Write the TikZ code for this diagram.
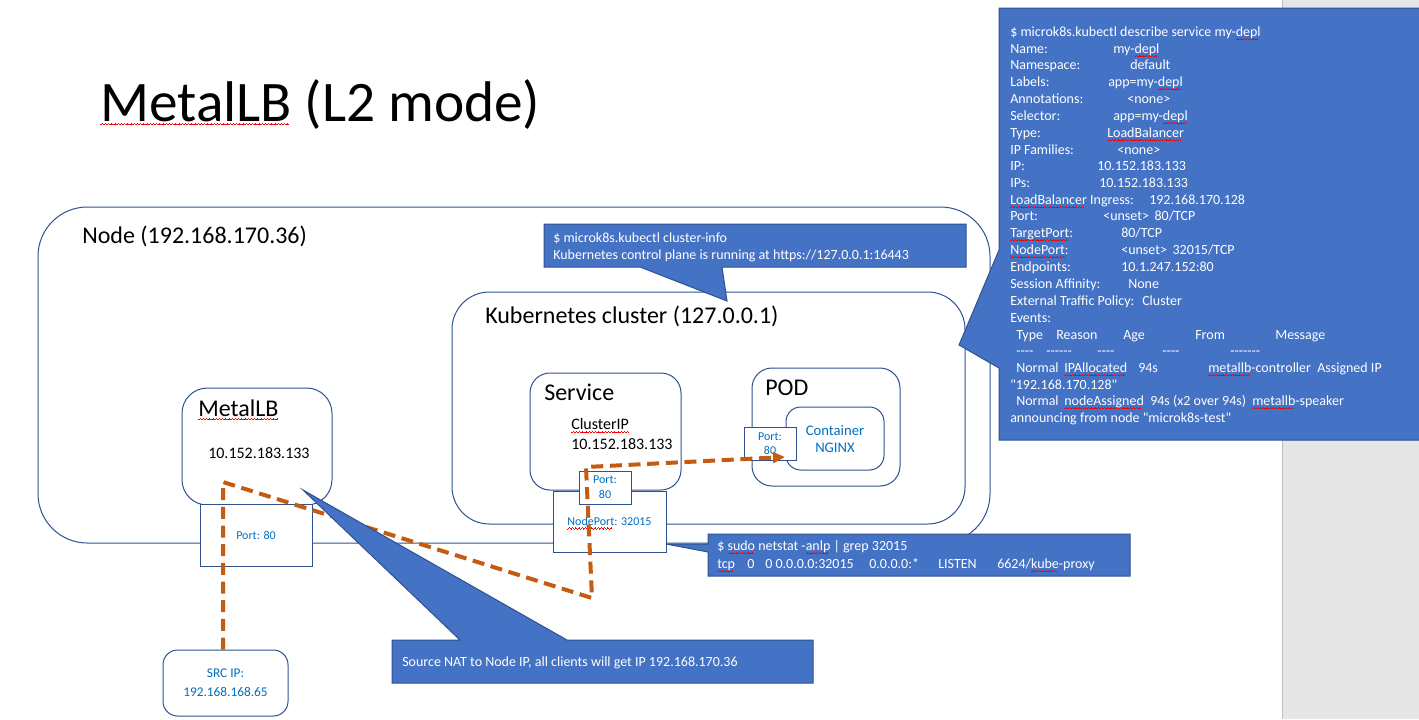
\documentclass[tikz,border=0pt]{standalone}
\usepackage{fontspec}
\setmainfont{Carlito}
\usepackage{xcolor}
\usetikzlibrary{arrows.meta, fit}
\definecolor{lineblue}{HTML}{2F528F}
\definecolor{callblue}{HTML}{4472C4}
\definecolor{txtblue}{HTML}{0070C0}
\definecolor{flowor}{HTML}{C55A11}
\definecolor{margin}{HTML}{E6E6E6}
\newcommand{\fs}[2]{\fontsize{#1}{#2}\selectfont}
\newsavebox{\wavebox}
\AtBeginDocument{\sbox{\wavebox}{\color{red}\rule[0pt]{0.6pt}{0.45pt}\rule[0.45pt]{0.6pt}{0.45pt}\rule[0.9pt]{0.6pt}{0.45pt}\rule[0.45pt]{0.6pt}{0.45pt}}}
\newcommand{\spl}[1]{\setbox0\hbox{#1}\leavevmode\rlap{\raisebox{-2.6pt}[0pt][0pt]{\hbox to \wd0{\leaders\copy\wavebox\hfill}}}\box0\relax}

\begin{document}
\begin{tikzpicture}[x=0.75pt, y=-0.75pt,
  box/.style={draw=lineblue, line width=0.75pt, inner sep=0pt},
  port/.style={box, fill=white},
  lbl/.style={anchor=west, inner sep=0pt, text height=6.6pt, text depth=0pt},
  big/.style={lbl, font=\fs{18}{22}},
  bt/.style={text=txtblue, align=center, inner sep=0pt, font=\fs{9}{11}},
  bubble/.style={fill=callblue, draw=lineblue, line width=0.75pt},
  ctxt/.style={lbl, text=white, font=\fs{10.5}{12.5}},
  flow/.style={draw=flowor, line width=3pt, dash pattern=on 9pt off 5pt},
  >=Triangle]
\useasboundingbox (0,0) rectangle (1419,719);
\fill[white] (0,0) rectangle (1282,719);
\fill[margin] (1282,0) rectangle (1419,719);
\draw[black!25] (1282,0) -- (1282,719);

\node[lbl, font=\fs{43}{52}] (title) at (100,117) {\spl{MetalLB} (L2 mode)};

% node and cluster
\node[box, rounded corners=37pt, fit={(38,207) (990,543)}] (nd) {};
\node[big] (ndlbl) at (82,239) {Node (192.168.170.36)};
\node[box, rounded corners=28pt, fit={(452,292) (965,524)}] (kc) {};
\node[big] (kclbl) at (485,319) {Kubernetes cluster (127.0.0.1)};

% service
\node[box, rounded corners=15pt, fit={(530,373) (681,490)}] (svc) {};
\node[big] (svclbl) at (544,396) {Service};
\node[lbl, font=\fs{12}{14}] (cip) at (571,425) {\spl{ClusterIP}};
\node[lbl, font=\fs{12}{14}] (cipv) at (571,445) {10.152.183.133};

% pod
\node[box, rounded corners=15pt, fit={(752,368) (900,486)}] (pod) {};
\node[big] (podlbl) at (765,391) {POD};
\node[box, rounded corners=11pt, fit={(786,407) (884,470)}] (ctr) {};
\node[bt, font=\fs{11}{12.75}] (ctrtxt) at (835,439) {Container\\NGINX};
\node[port, fit={(744,427) (796,460)}] (podport) {};
\node[bt, font=\fs{9}{10.5}] at (podport) {Port:\\80};

% metallb
\node[box, rounded corners=19pt, fit={(182,388) (332,505)}] (mlb) {};
\node[big] (mlblbl) at (198,412) {\spl{MetalLB}};
\node[lbl, font=\fs{12}{14}] (mlbip) at (208,454) {10.152.183.133};
\node[port, fit={(200,504) (312,566)}] (lbport) {};
\node[bt] at (lbport) {Port: 80};

% node port
\node[port, fit={(553,491) (666,552)}] (np) {};
\node[bt] at (np) {\spl{NodePort}: 32015};
\node[port, fit={(579,471) (631,504)}] (svcport) {};
\node[bt, font=\fs{9}{11}] at (svcport) {Port:\\80};

% client
\node[box, rounded corners=11pt, fit={(163,650) (288,716)}] (src) {};
\node[bt, font=\fs{10}{14}] at (src) {SRC IP:\\192.168.168.65};

% traffic
\coordinate (lbtap) at (223,482);
\coordinate (npdrop) at (592,598);
\coordinate (svctap) at (586,467);
\coordinate (arrtip) at (785,457);
\draw[flow, -{Triangle[length=9pt, width=8pt]}] (src.north -| lbtap) -- (lbtap) -- (npdrop) -- (svctap) -- (arrtip);

% callouts
\draw[bubble] (544,224) -- (966,224) -- (966,267) -- (722,267) -- (727,301) -- (640,267) -- (544,267) -- cycle;
\node[ctxt] (ci1) at (553,238) {\$ microk8s.kubectl cluster-info};
\node[ctxt] (ci2) at (553,255) {Kubernetes control plane is running at https://127.0.0.1:16443};

\draw[bubble] (708,534) -- (1130,534) -- (1130,576) -- (708,576) -- (708,552) -- (666,544) -- (708,544) -- cycle;
\node[ctxt] (ns1) at (717,546) {\$ \spl{sudo} netstat -\spl{anlp} | grep 32015};
\node[ctxt] (ns2) at (717,564) {\spl{tcp}};
\node[ctxt] (ns3) at (747,564) {0};
\node[ctxt] (ns4) at (765,564) {0 0.0.0.0:32015};
\node[ctxt] (ns5) at (869,564) {0.0.0.0:*};
\node[ctxt] (ns6) at (938,564) {LISTEN};
\node[ctxt] (ns7) at (997,564) {6624/\spl{kube}-proxy};

\draw[bubble] (392,640) -- (460,640) -- (303,490) -- (567,640) -- (813,640) -- (813,683) -- (392,683) -- cycle;
\node[ctxt] (nat) at (402,662) {Source NAT to Node IP, all clients will get IP 192.168.170.36};

\draw[bubble] (999,8) -- (1422,8) -- (1422,440) -- (999,440) -- (999,368) -- (959,345) -- (999,250) -- cycle;
\node[ctxt] (ds) at (1010,32) {\$ microk8s.kubectl describe service my-\spl{depl}};
\foreach \yy/\kk/\xx/\vv in {49/Name:/1113/{my-\spl{depl}}, 65/Namespace:/1130/default,
  82/Labels:/1108/{app=my-\spl{depl}}, 99/Annotations:/1127/{<none>},
  116/Selector:/1113/{app=my-\spl{depl}}, 133/Type:/1107/{\spl{LoadBalancer}},
  150/IP Families:/1117/{<none>}, 166/IP:/1097/10.152.183.133, 183/IPs:/1099/10.152.183.133,
  200/{\spl{LoadBalancer} Ingress:}/1149/192.168.170.128, 216/Port:/1103/{<unset>\hspace{0.4em}80/TCP},
  233/{\spl{TargetPort}:}/1121/{80/TCP}, 250/{\spl{NodePort}:}/1121/{<unset>\hspace{0.4em}32015/TCP},
  267/Endpoints:/1121/10.1.247.152:80, 284/Session Affinity:/1128/None,
  301/External Traffic Policy:/1142/Cluster}
  {\node[ctxt] (key-\yy) at (1010,\yy) {\kk};
   \node[ctxt] (val-\yy) at (\xx,\yy) {\vv};}
\node[ctxt] (ev) at (1010,318) {Events:};
\foreach \xx/\tt [count=\i] in {1016/Type, 1056/Reason, 1123/Age, 1195/From, 1275/Message}
  \node[ctxt] (eh-\i) at (\xx,335) {\tt};
\foreach \xx/\tt [count=\i] in {1016/{-{}-{}-{}-}, 1046/{-{}-{}-{}-{}-{}-}, 1097/{-{}-{}-{}-}, 1162/{-{}-{}-{}-}, 1230/{-{}-{}-{}-{}-{}-{}-}}
  \node[ctxt] (ed-\i) at (\xx,351) {\tt};
\foreach \xx/\tt [count=\i] in {1016/Normal, 1064/{\spl{IPAllocated}}, 1138/94s, 1208/{\spl{metallb}-controller}, 1317/Assigned IP}
  \node[ctxt] (ea-\i) at (\xx,368) {\tt};
\node[ctxt] (eip) at (1010,385) {\textquotedbl192.168.170.128\textquotedbl};
\foreach \xx/\tt [count=\i] in {1016/Normal, 1064/{\spl{nodeAssigned}}, 1150/94s (x2 over 94s), 1252/{\spl{metallb}-speaker}}
  \node[ctxt] (eb-\i) at (\xx,401) {\tt};
\node[ctxt] (eann) at (1010,418) {announcing from node \textquotedbl microk8s-test\textquotedbl};
\end{tikzpicture}
\end{document}
